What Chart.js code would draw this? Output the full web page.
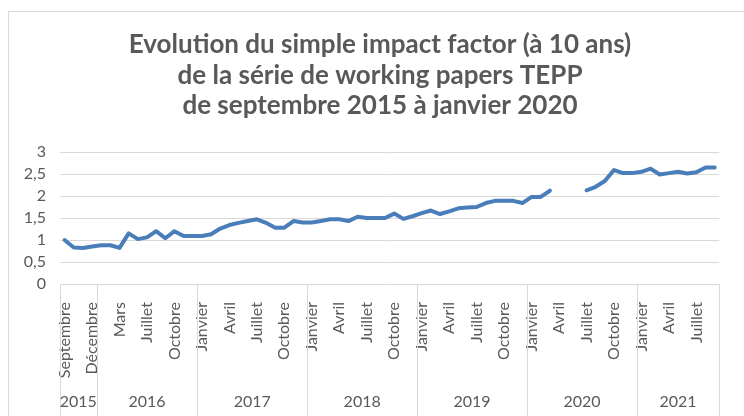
<!DOCTYPE html>
<html lang="fr">
<head>
<meta charset="utf-8">
<script src="https://cdn.jsdelivr.net/npm/chart.js@4"></script>
<style>
  body { margin: 0; background: #fff; }
  #wrap { position: relative; width: 744px; height: 416px; overflow: hidden; }
  #frame { position: absolute; left: 8px; top: 11px; width: 800px; height: 500px; border: 1px solid #d9d9d9; }
  canvas { position: absolute; left: 0; top: 0; }
</style>
</head>
<body>
<div id="wrap">
  <div id="frame"></div>
  <canvas id="myChart" width="744" height="416"></canvas>
</div>
<script>
// Titre du graphique
const titre = [
  "Evolution du simple impact factor (à 10 ans)",
  "de la série de working papers TEPP",
  "de septembre 2015 à janvier 2020"
];

// Mois par année (2016 : un mois manquant dans la série)
const mois2015 = ["Septembre", "Octobre", "Novembre", "Décembre"];
const mois2016 = ["Janvier", "Février", "Mars", "Avril", "Juin", "Juillet", "Août", "Septembre", "Octobre", "Novembre", "Décembre"];
const moisAnnee = ["Janvier", "Février", "Mars", "Avril", "Mai", "Juin", "Juillet", "Août", "Septembre", "Octobre", "Novembre", "Décembre"];
const mois2021 = moisAnnee.slice(0, 9);

const annees = ["2015", "2016", "2017", "2018", "2019", "2020", "2021"];
const moisParAnnee = [mois2015, mois2016, moisAnnee, moisAnnee, moisAnnee, moisAnnee, mois2021];

// Valeurs (null = pas de donnée)
const impactFactor = [
  1.00, 0.83, 0.82, 0.85,
  0.88, 0.88, 0.82, 1.15, 1.02, 1.06, 1.20, 1.04, 1.20, 1.09, 1.09,
  1.09, 1.13, 1.26, 1.34, 1.39, 1.43, 1.47, 1.39, 1.28, 1.28, 1.43, 1.40,
  1.40, 1.43, 1.47, 1.47, 1.43, 1.53, 1.50, 1.50, 1.50, 1.60, 1.48, 1.54,
  1.61, 1.67, 1.59, 1.65, 1.72, 1.74, 1.75, 1.84, 1.89, 1.89, 1.89, 1.84,
  1.98, 1.98, 2.12, null, null, null, 2.13, 2.21, 2.34, 2.59, 2.52, 2.52,
  2.55, 2.62, 2.49, 2.52, 2.55, 2.51, 2.54, 2.65, 2.65
];

const yTicks = [0, 0.5, 1, 1.5, 2, 2.5, 3];

const labels = moisParAnnee.flat();
const gris = "#595959";
const grille = "#d9d9d9";

// Plugin : titre centré sur le cadre du graphique
const titrePlugin = {
  id: "titre",
  afterDraw(chart) {
    const ctx = chart.ctx;
    ctx.save();
    ctx.fillStyle = gris;
    ctx.font = "bold 26px Lato";
    ctx.textAlign = "center";
    ctx.textBaseline = "middle";
    titre.forEach((ligne, i) => ctx.fillText(ligne, 380, 45 + i * 30.5));
    ctx.restore();
  }
};

// Plugin : libellés des années et séparateurs sous l'axe
const anneesPlugin = {
  id: "annees",
  afterDraw(chart) {
    const ctx = chart.ctx;
    const x = chart.scales.x;
    const bas = chart.height;
    const haut = chart.chartArea.bottom;
    const limite = (i) => {
      if (i <= 0) return x.left;
      if (i >= labels.length) return x.right;
      return (x.getPixelForValue(i - 1) + x.getPixelForValue(i)) / 2;
    };
    ctx.save();
    ctx.strokeStyle = grille;
    ctx.lineWidth = 1;
    ctx.fillStyle = gris;
    ctx.font = "16px Lato";
    ctx.textAlign = "center";
    ctx.textBaseline = "middle";
    let debut = 0;
    moisParAnnee.forEach((m, k) => {
      const g = limite(debut);
      const d = limite(debut + m.length);
      ctx.beginPath();
      ctx.moveTo(Math.round(g) + 0.5, haut);
      ctx.lineTo(Math.round(g) + 0.5, bas);
      ctx.stroke();
      ctx.fillText(annees[k], (g + d) / 2, 402);
      debut += m.length;
    });
    const fin = limite(labels.length);
    ctx.beginPath();
    ctx.moveTo(Math.round(fin) + 0.5, haut);
    ctx.lineTo(Math.round(fin) + 0.5, bas);
    ctx.stroke();
    ctx.restore();
  }
};

const chart = document.querySelector("#myChart");

const config = {
  type: "line",
  data: {
    labels: labels,
    datasets: [{
      data: impactFactor,
      borderColor: "#4a7ebb",
      borderWidth: 4,
      pointRadius: 0,
      spanGaps: false,
      borderCapStyle: "round",
      borderJoinStyle: "round",
      tension: 0
    }]
  },
  options: {
    responsive: false,
    animation: false,
    layout: { padding: { left: 0, right: 13, top: 152, bottom: 0 } },
    plugins: {
      legend: { display: false },
      tooltip: { enabled: false },
      title: { display: false }
    },
    scales: {
      x: {
        offset: true,
        grid: { display: false },
        border: { display: false },
        ticks: {
          autoSkip: false,
          maxRotation: 90,
          minRotation: 90,
          padding: 10,
          color: gris,
          font: { family: "Lato", size: 16 },
          callback: function (value, index) {
            return index % 3 === 0 ? this.getLabelForValue(value) : "";
          }
        },
        afterFit: (scale) => { scale.height = 132; }
      },
      y: {
        min: 0,
        max: 3,
        afterBuildTicks: (scale) => { scale.ticks = yTicks.map((v) => ({ value: v })); },
        grid: { color: grille, drawTicks: false },
        border: { display: false },
        ticks: {
          autoSkip: false,
          padding: 14,
          color: gris,
          font: { family: "Lato", size: 16 },
          callback: (v) => String(v).replace(".", ",")
        },
        afterFit: (scale) => { scale.width = 60; }
      }
    }
  },
  plugins: [anneesPlugin, titrePlugin]
};

new Chart(chart, config);
</script>
</body>
</html>
